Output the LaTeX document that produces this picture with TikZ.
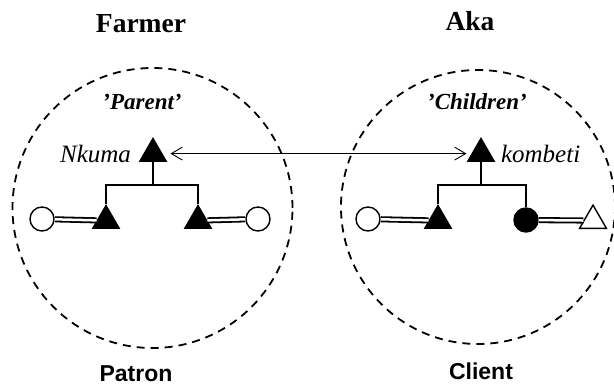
\documentclass[tikz,border=0pt]{standalone}
\usepackage{fontspec}
\setmainfont{Liberation Serif}
\newfontfamily\headsans{Liberation Sans}
\usetikzlibrary{arrows.meta,positioning,shapes.geometric}

\begin{document}
\begin{tikzpicture}[x=1pt, y=-1pt, >={Straight Barb[length=11pt,width=13pt]},
 group/.style={circle, draw, line width=1.8pt, dash pattern=on 8pt off 6pt, inner sep=0pt},
 title/.style={font=\fontsize{27.5}{30}\selectfont\bfseries},
 side/.style={font=\headsans\fontsize{23}{27}\selectfont\bfseries, inner sep=1pt},
 quoted/.style={font=\fontsize{23}{27}\selectfont\bfseries\itshape},
 kinname/.style={font=\fontsize{25}{29}\selectfont\itshape},
 male/.style={regular polygon, regular polygon sides=3, minimum size=31pt, inner sep=0pt, draw, line width=1pt, fill=black},
 openmale/.style={male, fill=white, line width=1.4pt},
 female/.style={circle, minimum size=24pt, inner sep=0pt, draw, line width=1.4pt},
 kin/.style={line width=1.6pt},
 marriage/.style={double, double distance=2.5pt, line width=1.8pt}]

    \useasboundingbox (0,0) rectangle (614,387);

    % patron side
    \node[group, minimum size=280pt] (farmer) at (152.5,208) {};
    \node[title] (farmerlbl) at (141,24) {Farmer};
    \node[side] (patronlbl) at (136,374) {Patron};
    \node[quoted] (parentlbl) at (142,102) {'Parent'};
    \node[male] (nkuma) at (153,153.6) {};
    \node[kinname, left=9pt of nkuma] (nkumalbl) {Nkuma};
    \coordinate (lbar) at (153,185);
    \node[male] (lson1) at (106,220.6) {};
    \node[male] (lson2) at (198,220.6) {};
    \node[female] (lwife1) at (42,219) {};
    \node[female] (lwife2) at (258,219) {};

    \draw[kin] (nkuma.south) -- (lbar);
    \draw[kin] (lson1.corner 1) |- (lbar) -| (lson2.corner 1);
    \draw[marriage] (lwife1) -- (lson1);
    \draw[marriage] (lson2) -- (lwife2);

    % client side
    \node[group, minimum size=274pt] (aka) at (478,207) {};
    \node[title] (akalbl) at (470,21) {Aka};
    \node[side] (clientlbl) at (481,371) {Client};
    \node[quoted] (childlbl) at (477,102) {'Children'};
    \node[male] (kombeti) at (481,153.6) {};
    \node[kinname, right=7pt of kombeti] (kombetilbl) {kombeti};
    \coordinate (rbar) at (481,185);
    \node[male] (rson) at (438,220.6) {};
    \node[female, fill=black] (rdaughter) at (526,220) {};
    \node[female] (rwife) at (368,219) {};
    \node[openmale] (rhusband) at (593,220.6) {};

    \draw[kin] (kombeti.south) -- (rbar);
    \draw[kin] (rson.corner 1) |- (rbar) -| (rdaughter.north);
    \draw[marriage] (rwife) -- (rson);
    \draw[marriage] (rdaughter) -- (rhusband);

    \draw[<->, line width=0.9pt, shorten <=8pt, shorten >=5pt] (nkuma) -- (kombeti);

\end{tikzpicture}
\end{document}
